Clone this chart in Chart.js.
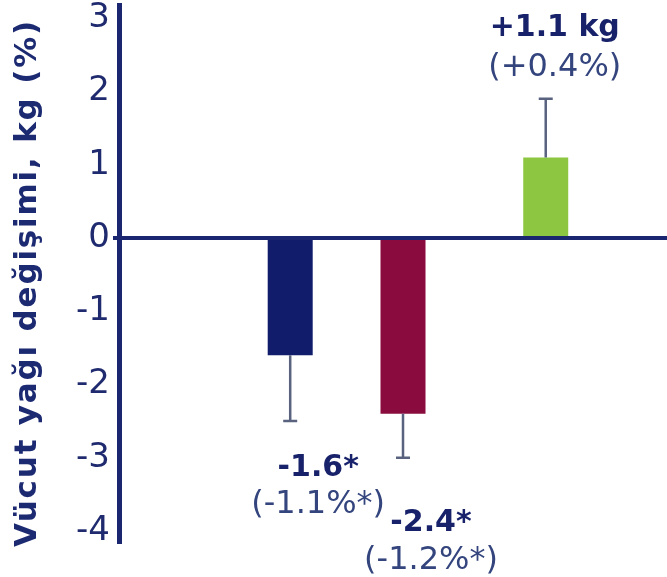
<!DOCTYPE html>
<html>
<head>
<meta charset="utf-8">
<script src="https://cdn.jsdelivr.net/npm/chart.js@4"></script>
<style>
  html, body { margin: 0; padding: 0; background: #fff; }
  #wrap { width: 667px; height: 577px; }
</style>
</head>
<body>
<div id="wrap"><canvas id="fatChart" width="667" height="577"></canvas></div>
<script>
// groups, values and labels
const groupNames = ['Grup 1', 'Grup 2', 'Grup 3'];
const cluster = [1, 1, 2];               // bars 1 and 2 sit side by side
const fatChangeKg = [-1.6, -2.4, 1.1];
const errorKg = [0.9, 0.6, 0.8];
const significant = ['*', '*', ''];
const unitSuffix = ['', '', ' kg'];
const changePct = ['-1.1%*', '-1.2%*', '+0.4%'];
const yTicks = [-4, -3, -2, -1, 0, 1, 2, 3];
const yTitle = 'Vücut yağı değişimi, kg (%)';

const barColors = ['#111d6b', '#8a0b3d', '#8dc641'];
const NAVY = '#1b2670';
const TEXT = '#1f2b6e';

// label placement relative to the whisker end (dx, dy, gap to second line)
const labelOffsets = [[28, 47, 37], [28, 65, 38], [9, -71, 40]];

const datasets = groupNames.map((name, i) => ({
    label: name,
    data: [1, 2].map(c => ({ x: c, y: c === cluster[i] ? fatChangeKg[i] : null })),
    backgroundColor: barColors[i],
    borderWidth: 0,
    skipNull: true,
    maxBarThickness: 45,
    barPercentage: 1,
    categoryPercentage: 1.133
}));

const fmt = v => (v > 0 ? '+' : '-') + Math.abs(v).toFixed(1);

const errorBars = {
    id: 'errorBars',
    afterDatasetsDraw(chart) {
        const { ctx, scales: { y } } = chart;
        ctx.save();
        chart.data.datasets.forEach((ds, i) => {
            const meta = chart.getDatasetMeta(i);
            const bar = meta.data[cluster[i] - 1];
            const v = fatChangeKg[i];
            const yEnd = y.getPixelForValue(v + Math.sign(v) * errorKg[i]);

            // whisker
            ctx.strokeStyle = '#59637f';
            ctx.lineWidth = 2.5;
            ctx.beginPath();
            ctx.moveTo(bar.x, bar.y);
            ctx.lineTo(bar.x, yEnd);
            ctx.moveTo(bar.x - 7, yEnd);
            ctx.lineTo(bar.x + 7, yEnd);
            ctx.stroke();

            // value labels
            const [dx, dy, gap] = labelOffsets[i];
            const cx = bar.x + dx;
            const cy = yEnd + dy;
            ctx.textAlign = 'center';
            ctx.textBaseline = 'middle';
            ctx.fillStyle = '#17226a';
            ctx.font = 'bold 30px "DejaVu Sans"';
            ctx.fillText(fmt(v) + significant[i] + unitSuffix[i], cx, cy);
            ctx.fillStyle = '#34457e';
            ctx.font = '32px "DejaVu Sans"';
            ctx.fillText('(' + changePct[i] + ')', cx, cy + gap);
        });
        ctx.restore();
    }
};

// rotated axis title, drawn a little wider than the built-in one
const axisTitle = {
    id: 'axisTitle',
    afterDraw(chart) {
        const { ctx } = chart;
        ctx.save();
        ctx.translate(28, 283);
        ctx.rotate(-Math.PI / 2);
        ctx.font = 'bold 31px "DejaVu Sans"';
        ctx.letterSpacing = '1.8px';
        ctx.fillStyle = '#1c2a72';
        ctx.textAlign = 'center';
        ctx.textBaseline = 'middle';
        ctx.fillText(yTitle, 0, 0);
        ctx.restore();
    }
};

new Chart(document.getElementById('fatChart').getContext('2d'), {
    type: 'bar',
    data: { datasets },
    options: {
        responsive: false,
        animation: false,
        layout: { padding: { top: 5, bottom: 35, left: 0, right: 0 } },
        plugins: {
            legend: { display: false },
            tooltip: { enabled: false }
        },
        scales: {
            x: {
                type: 'linear',
                min: -0.143,
                max: 2.609,
                display: false,
                afterBuildTicks: s => { s.ticks = []; }
            },
            y: {
                min: -4.15,
                max: 3.18,
                afterBuildTicks: s => { s.ticks = yTicks.map(v => ({ value: v })); },
                afterFit: s => {
                    s.width = 119;
                    s.paddingTop = 0;
                    s.paddingBottom = 0;
                },
                ticks: {
                    color: TEXT,
                    padding: 3,
                    font: { family: 'DejaVu Sans', size: 34 }
                },
                grid: {
                    color: c => (c.tick && c.tick.value === 0 ? NAVY : 'rgba(0,0,0,0)'),
                    lineWidth: 4,
                    tickLength: 6
                },
                border: { color: NAVY, width: 5 }
            }
        }
    },
    plugins: [errorBars, axisTitle]
});
</script>
</body>
</html>
